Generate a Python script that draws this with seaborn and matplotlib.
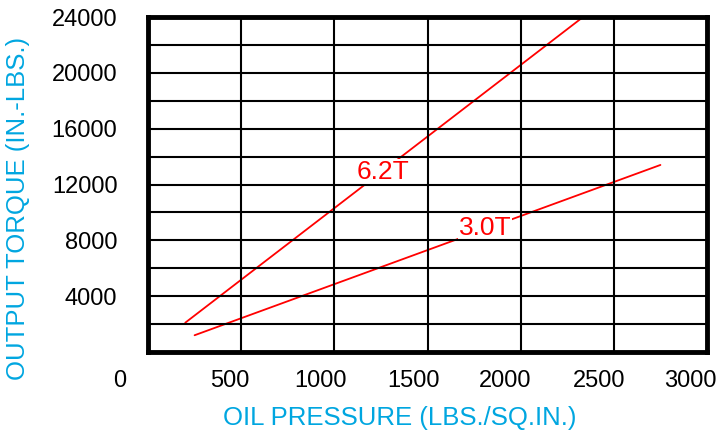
"""Output torque vs oil pressure for 6.2T and 3.0T units."""

import matplotlib
matplotlib.use("Agg")
import matplotlib.pyplot as plt
import matplotlib.transforms as mtransforms
import seaborn as sns
import pandas as pd

# data
pressure_62 = [200, 2335]
torque_62 = [2100, 24000]
pressure_30 = [250, 2750]
torque_30 = [1200, 13400]

model_names = ["6.2T", "3.0T"]
label_pos = [(1260, 12900), (1810, 8880)]

x_ticks = [0, 500, 1000, 1500, 2000, 2500, 3000]
y_ticks = [4000, 8000, 12000, 16000, 20000, 24000]

sns.set_style("white")
plt.rcParams["font.family"] = ["Liberation Sans", "DejaVu Sans"]

df = pd.concat([
    pd.DataFrame({"pressure": pressure_62, "torque": torque_62, "model": "6.2T"}),
    pd.DataFrame({"pressure": pressure_30, "torque": torque_30, "model": "3.0T"}),
])

fig = plt.figure(figsize=(7.25, 4.37), dpi=100)
ax = fig.add_axes([148 / 725, 1 - 352 / 437, (707 - 148) / 725, (352 - 17) / 437])

sns.lineplot(data=df, x="pressure", y="torque", hue="model",
             palette=["red", "red"], linewidth=1.3, legend=False, ax=ax, zorder=3)

ax.set_xlim(0, 3000)
ax.set_ylim(0, 24000)
ax.set_xlabel("")
ax.set_ylabel("")

# grid: vertical every 500, horizontal every 2000 (drawn over the label boxes)
for xv in range(500, 3000, 500):
    ax.axvline(xv, color="black", linewidth=1.5, zorder=4)
for yv in range(2000, 24000, 2000):
    ax.axhline(yv, color="black", linewidth=1.5, zorder=4)

for side in ax.spines.values():
    side.set_linewidth(3.5)
    side.set_color("black")
    side.set_zorder(5)

ax.set_xticks(x_ticks)
ax.set_xticklabels([str(v) for v in x_ticks])
ax.set_yticks(y_ticks)
ax.set_yticklabels([str(v) for v in y_ticks])
ax.tick_params(axis="both", length=0, labelsize=17, colors="black")
ax.tick_params(axis="x", pad=13)
ax.tick_params(axis="y", pad=22)

# shift x tick labels slightly left like the original
shifts = [-28, -11, -14, -14, -16, -15, -17]
for lab, dx in zip(ax.get_xticklabels(), shifts):
    lab.set_transform(lab.get_transform() + mtransforms.ScaledTranslation(dx / 100, 0, fig.dpi_scale_trans))

for name, (px, py) in zip(model_names, label_pos):
    ax.text(px, py, name, color="red", fontsize=19, ha="center", va="center", zorder=3.5,
            bbox=dict(facecolor="white", edgecolor="none", pad=0.5))

blue = "#00A6E0"
fig.text(400 / 725, 1 - 418 / 437, "OIL PRESSURE (LBS./SQ.IN.)", color=blue,
         fontsize=18.5, ha="center", va="center")
fig.text(18 / 725, 1 - 208 / 437, "OUTPUT TORQUE (IN.-LBS.)", color=blue,
         fontsize=18.5, ha="center", va="center", rotation=90)

fig.savefig("out.png", dpi=100)
